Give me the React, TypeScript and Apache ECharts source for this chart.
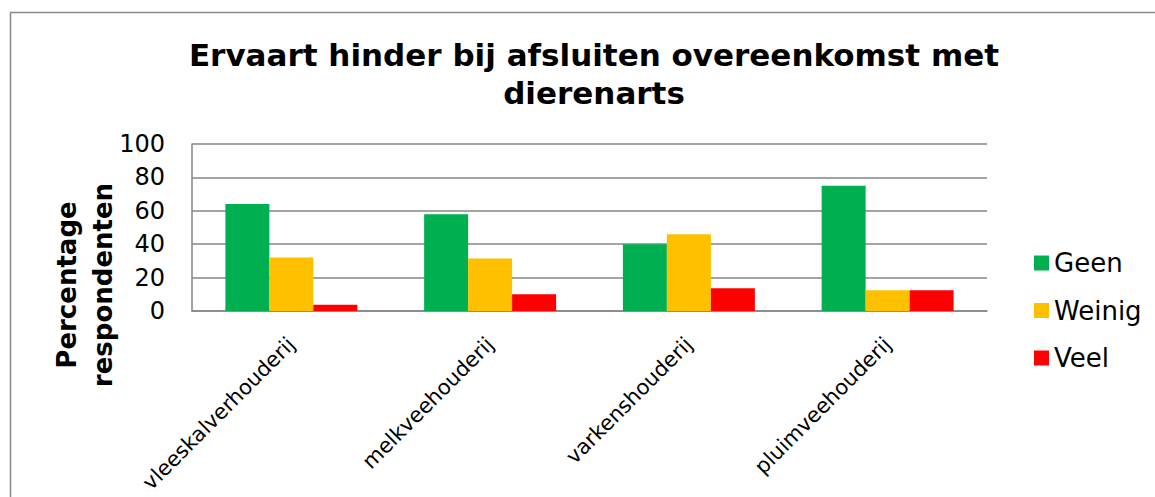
import React, { useEffect, useRef } from "react";
import * as echarts from "echarts";

const categories = ["vleeskalverhouderij", "melkveehouderij", "varkenshouderij", "pluimveehouderij"];
const geen = [64, 58, 40, 75];
const weinig = [32, 31.5, 46, 12.5];
const veel = [3.7, 10, 13.6, 12.5];
const seriesNames = ["Geen", "Weinig", "Veel"];
const colors = ["#00B050", "#FFC000", "#FF0000"];
const titleText = "Ervaart hinder bij afsluiten overeenkomst met\ndierenarts";
const yAxisTitle = "Percentage\nrespondenten";

const FONT = "DejaVu Sans, Verdana, sans-serif";

export default function App() {
  const ref = useRef<HTMLDivElement>(null);
  useEffect(() => {
    if (!ref.current) return;
    const chart = echarts.init(ref.current, null, { renderer: "svg" });
    const data = [geen, weinig, veel];
    chart.setOption({
      animation: false,
      backgroundColor: "#ffffff",
      title: {
        text: titleText,
        left: 589,
        textAlign: "center",
        top: 31,
        textStyle: {
          fontFamily: FONT,
          fontWeight: "bold",
          fontSize: 31,
          lineHeight: 38,
          color: "#000",
        },
      },
      graphic: [
        {
          type: "rect",
          shape: { x: 10.5, y: 12.5, width: 1200, height: 600 },
          style: { fill: "none", stroke: "#888888", lineWidth: 1.5 },
          silent: true,
          z: 0,
        },
        {
          type: "text",
          x: 85,
          y: 285,
          rotation: Math.PI / 2,
          style: {
            text: yAxisTitle,
            fontFamily: FONT,
            fontWeight: "bold",
            fontSize: 26,
            lineHeight: 36,
            fill: "#000",
            align: "center",
            verticalAlign: "middle",
          },
        },
      ],
      legend: {
        orient: "vertical",
        left: 1029,
        top: 245,
        itemWidth: 15,
        itemHeight: 15,
        itemGap: 21.5,
        icon: "rect",
        data: seriesNames,
        textStyle: {
          fontFamily: FONT,
          fontSize: 26,
          lineHeight: 26,
          color: "#000",
          padding: [0, 0, 0, 0],
        },
      },
      grid: {
        left: 192,
        top: 144,
        width: 795,
        height: 167,
        containLabel: false,
      },
      xAxis: {
        type: "category",
        data: categories,
        axisLine: { show: true, lineStyle: { color: "#868686", width: 1.5 } },
        axisTick: { show: false },
        axisLabel: {
          rotate: 45,
          margin: 30,
          fontFamily: FONT,
          fontSize: 21,
          color: "#000",
          interval: 0,
        },
      },
      yAxis: {
        type: "value",
        min: 0,
        max: 100,
        interval: 20,
        axisLine: { show: true, lineStyle: { color: "#868686", width: 1.5 } },
        axisTick: { show: false },
        splitLine: { show: true, lineStyle: { color: "#868686", width: 1.5 } },
        axisLabel: {
          margin: 27,
          fontFamily: FONT,
          fontSize: 24,
          color: "#000",
        },
      },
      series: seriesNames.map((name, i) => ({
        name,
        type: "bar",
        data: data[i],
        barGap: "0%",
        barCategoryGap: "33.6%",
        itemStyle: { color: colors[i] },
      })),
    });
    return () => chart.dispose();
  }, []);
  return (
    <div
      ref={ref}
      style={{ position: "fixed", left: 0, top: 0, width: 1155, height: 497 }}
    />
  );
}
